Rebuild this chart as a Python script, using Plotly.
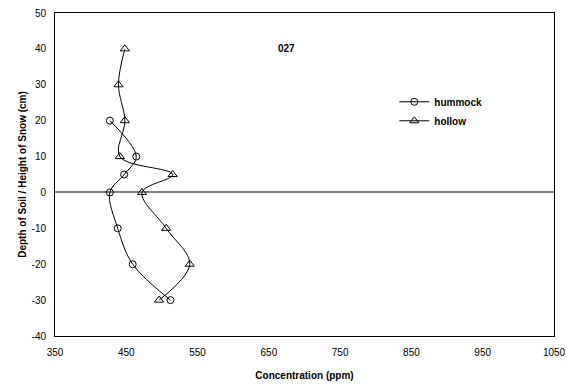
import plotly.graph_objects as go

depth_hummock = [20, 10, 5, 0, -10, -20, -30]
conc_hummock = [427, 464, 447, 427, 438, 459, 512]

depth_hollow = [40, 30, 20, 10, 5, 0, -10, -20, -30]
conc_hollow = [448, 439, 448, 441, 515, 472, 506, 539, 496]

x_ticks = [350, 450, 550, 650, 750, 850, 950, 1050]
y_ticks = [-40, -30, -20, -10, 0, 10, 20, 30, 40, 50]

FONT = "Liberation Sans, Arial, sans-serif"

fig = go.Figure()
fig.add_trace(go.Scatter(
    x=conc_hummock, y=depth_hummock, name="hummock", mode="lines+markers",
    line=dict(color="black", width=1, shape="spline", smoothing=1),
    marker=dict(symbol="circle-open", size=7, color="black", line=dict(width=1)),
))
fig.add_trace(go.Scatter(
    x=conc_hollow, y=depth_hollow, name="hollow", mode="lines+markers",
    line=dict(color="black", width=1, shape="spline", smoothing=1),
    marker=dict(symbol="triangle-up-open", size=8, color="black", line=dict(width=1)),
))

fig.add_annotation(x=0.463, y=0.913, xref="paper", yref="paper", text="<b>027</b>",
                   showarrow=False, font=dict(family=FONT, size=10, color="black"))

fig.update_layout(
    width=566, height=386,
    margin=dict(l=55, r=12, t=13, b=50, autoexpand=False),
    paper_bgcolor="white", plot_bgcolor="white",
    font=dict(family=FONT, size=10, color="black"),
    showlegend=True,
    legend=dict(x=0.68, y=0.77, xanchor="left", yanchor="top",
                bgcolor="rgba(0,0,0,0)", font=dict(family=FONT, size=10, color="black"),
                tracegroupgap=2, itemwidth=30),
    xaxis=dict(range=[350, 1050], tickvals=x_ticks, ticktext=[str(v) for v in x_ticks],
               automargin=False, ticklabelstandoff=7,
               showgrid=False, zeroline=False, showline=True, linecolor="black", linewidth=1,
               mirror=True, ticks="", title=dict(text="<b>Concentration (ppm)</b>",
               font=dict(size=10), standoff=14)),
    yaxis=dict(range=[-40, 50], tickvals=y_ticks, ticktext=[str(v) for v in y_ticks],
               automargin=False, ticklabelstandoff=6,
               showgrid=False, zeroline=True, zerolinecolor="#808080", zerolinewidth=1.5,
               showline=True, linecolor="black", linewidth=1, mirror=True, ticks="",
               title=dict(text="<b>Depth of Soil / Height of Snow (cm)</b>",
               font=dict(size=10), standoff=3)),
)
fig.for_each_trace(lambda t: t.update(name="<b>" + t.name + "</b>"))

fig.write_html("out.html", config={"displayModeBar": False},
               post_script="document.body.style.margin='0';document.body.style.overflow='hidden';")
